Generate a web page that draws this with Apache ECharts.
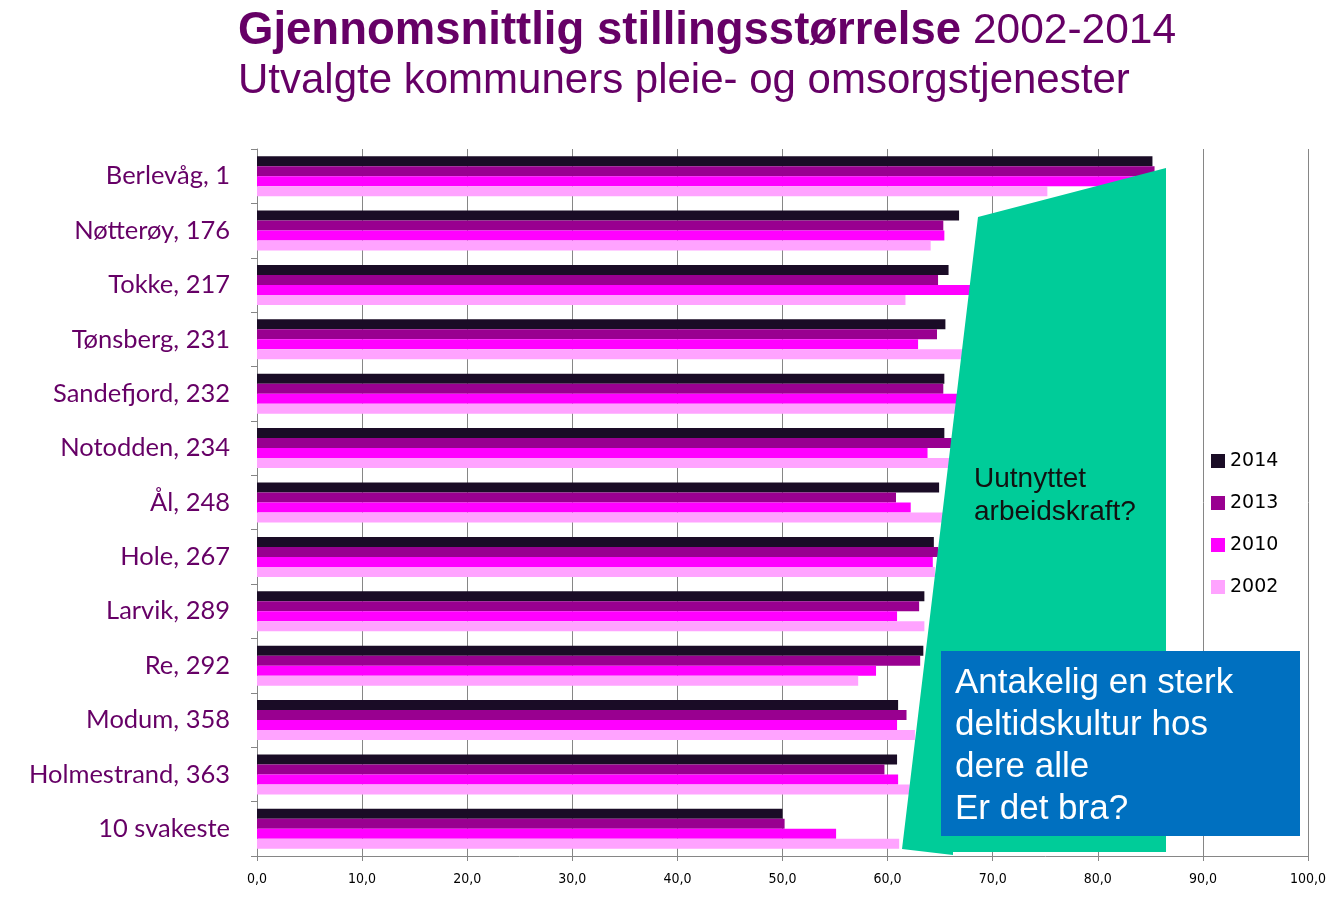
<!DOCTYPE html>
<html>
<head>
<meta charset="utf-8">
<script src="https://cdn.jsdelivr.net/npm/echarts@6/dist/echarts.min.js"></script>
<style>html,body{margin:0;padding:0;background:#fff;}#c{width:1340px;height:908px;}</style>
</head>
<body>
<div id="c"></div>
<script>
const categories = ['Berlevåg, 1','Nøtterøy, 176','Tokke, 217','Tønsberg, 231','Sandefjord, 232','Notodden, 234','Ål, 248','Hole, 267','Larvik, 289','Re, 292','Modum, 358','Holmestrand, 363','10 svakeste'];
const seriesNames = ['2014','2013','2010','2002'];
const v2014 = [85.2, 66.8, 65.8, 65.5, 65.4, 65.4, 64.9, 64.4, 63.5, 63.4, 61.0, 60.9, 50.0];
const v2013 = [85.4, 65.3, 64.8, 64.7, 65.3, 66.1, 60.8, 64.8, 63.0, 63.1, 61.8, 59.7, 50.2];
const v2010 = [83.5, 65.4, 68.5, 62.9, 66.8, 63.8, 62.2, 64.3, 60.9, 58.9, 60.9, 61.0, 55.1];
const v2002 = [75.2, 64.1, 61.7, 67.5, 66.5, 66.0, 65.5, 64.5, 63.5, 57.2, 62.6, 62.1, 61.1];
const colors = ['#1a0c26', '#990090', '#ff00ff', '#ffa3ff'];
const values = [v2014, v2013, v2010, v2002];

const chart = echarts.init(document.getElementById('c'));
const purple = '#660066';
const arial = 'Liberation Sans, Arial, sans-serif';
chart.setOption({
  animation: false,
  backgroundColor: '#ffffff',
  title: [{
    left: 238, top: 8, padding: 0,
    text: '{b|Gjennomsnittlig stillingsstørrelse}{n| 2002-2014}',
    textStyle: {
      rich: {
        b: {fontFamily: arial, fontWeight: 'bold', fontSize: 45.5, color: purple},
        n: {fontFamily: arial, fontWeight: 'normal', fontSize: 42.5, color: purple}
      }
    }
  }, {
    left: 238, top: 60, padding: 0,
    text: 'Utvalgte kommuners pleie- og omsorgstjenester',
    textStyle: {fontFamily: arial, fontWeight: 'normal', fontSize: 42, color: purple}
  }],
  legend: {
    orient: 'vertical',
    left: 1206, top: 446,
    itemWidth: 14, itemHeight: 14, itemGap: 22,
    icon: 'rect',
    data: seriesNames,
    textStyle: {fontFamily: 'DejaVu Sans, sans-serif', fontSize: 19, color: '#000', lineHeight: 20}
  },
  grid: {left: 257, right: 32, top: 149, bottom: 52, containLabel: false},
  xAxis: {
    type: 'value', min: 0, max: 100, interval: 10,
    axisLine: {show: true, lineStyle: {color: '#868686', width: 1}},
    axisTick: {show: true, length: 5, lineStyle: {color: '#868686'}},
    splitLine: {show: true, lineStyle: {color: '#868686', width: 1}},
    axisLabel: {
      margin: 16, color: '#000', fontSize: 14,
      fontFamily: 'Liberation Sans Narrow, DejaVu Sans Condensed, sans-serif',
      formatter: v => v.toFixed(1).replace('.', ',')
    }
  },
  yAxis: {
    type: 'category', inverse: true, data: categories,
    axisLine: {show: true, lineStyle: {color: '#868686', width: 1}},
    axisTick: {show: true, length: 6, lineStyle: {color: '#868686'}},
    axisLabel: {margin: 27, color: purple, fontSize: 25.5, fontFamily: 'Lato, Noto Sans, sans-serif'}
  },
  series: seriesNames.map((n, i) => ({
    name: n, type: 'bar', data: values[i],
    barWidth: 10, barGap: '0%', barCategoryGap: '26%',
    itemStyle: {color: colors[i]},
    z: 2
  })),
  graphic: [
    {
      type: 'polygon', z: 100,
      shape: {points: [[978, 217], [1166, 168], [1166, 852], [953, 852], [953, 855], [902, 849]]},
      style: {fill: '#00cc99'}
    },
    {
      type: 'text', z: 101, left: 974, top: 463,
      style: {text: 'Uutnyttet\narbeidskraft?', fontFamily: arial, fontSize: 28, lineHeight: 33, fill: '#111'}
    },
    {
      type: 'rect', z: 102,
      shape: {x: 941, y: 651, width: 359, height: 185},
      style: {fill: '#0070c0'}
    },
    {
      type: 'text', z: 103, left: 955, top: 662,
      style: {text: 'Antakelig en sterk\ndeltidskultur hos\ndere alle\nEr det bra?', fontFamily: arial, fontSize: 35, lineHeight: 42, fill: '#ffffff'}
    }
  ]
});
</script>
</body>
</html>
